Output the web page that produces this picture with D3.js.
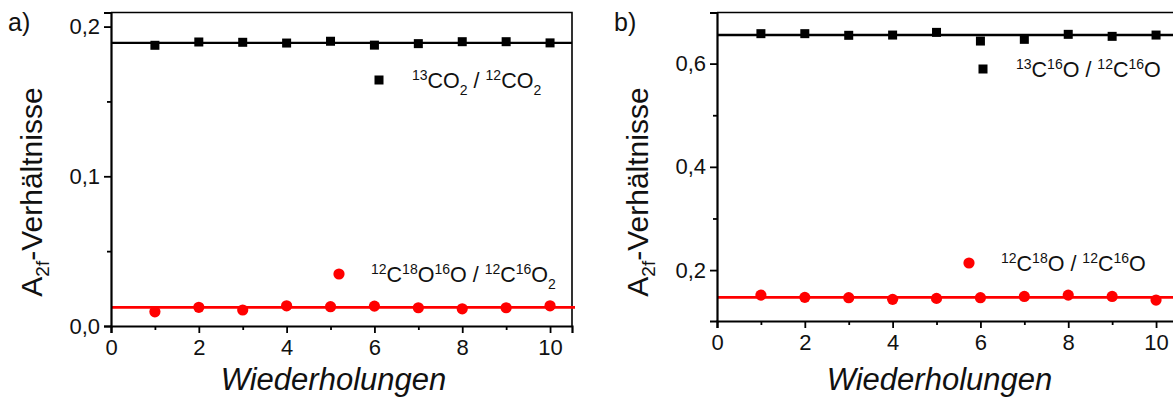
<!DOCTYPE html>
<html>
<head>
<meta charset="utf-8">
<script src="https://cdn.jsdelivr.net/npm/d3@7"></script>
<style>
  body { margin: 0; background: #fff; }
  svg { font-family: "Liberation Sans", Arial, sans-serif; display: block; }
</style>
</head>
<body>
<svg id="chart" width="1173" height="401"></svg>
<script>
// repetitions on the x axis
const repeats = [1, 2, 3, 4, 5, 6, 7, 8, 9, 10];
const xTicks = [0, 2, 4, 6, 8, 10];

// panel a: CO2 isotope ratios
const co2Ratio13 = [0.1875, 0.1897, 0.1895, 0.1890, 0.1902, 0.1876, 0.1886, 0.1899, 0.1899, 0.1891];
const co2Ratio18 = [0.0095, 0.0125, 0.0107, 0.0135, 0.0129, 0.0133, 0.0122, 0.0115, 0.0122, 0.0135];
const co2Fit = [0.1891, 0.0125];
const yTicksA = [0, 0.1, 0.2];

// panel b: CO isotope ratios
const coRatio13 = [0.6580, 0.6580, 0.6548, 0.6553, 0.6605, 0.6437, 0.6470, 0.6567, 0.6528, 0.6553];
const coRatio18 = [0.1516, 0.1472, 0.1465, 0.1433, 0.1452, 0.1465, 0.1490, 0.1516, 0.1490, 0.1420];
const coFit = [0.6553, 0.1472];
const yTicksB = [0.2, 0.4, 0.6];

const fmt = d => d3.format(".1f")(d).replace(".", ",");
const svg = d3.select("#chart");

function panel(opt) {
  const x = d3.scaleLinear().domain([0, 10.5]).range([opt.left, opt.left + 461]);
  const y = d3.scaleLinear().domain(opt.yDomain).range([opt.bottom, 12.5]);
  const g = svg.append("g");

  // frame top + right
  g.append("path")
    .attr("d", `M${x(0)},${y.range()[1]}H${x(10.5)}V${opt.bottom}`)
    .attr("fill", "none").attr("stroke", "#000").attr("stroke-width", 1.6);

  // fit lines
  const lineColors = ["#000", "#f00"];
  opt.fit.forEach((v, i) => {
    g.append("line")
      .attr("x1", x(0)).attr("x2", x(10.5) + (i ? 3 : 0))
      .attr("y1", y(v)).attr("y2", y(v))
      .attr("stroke", lineColors[i]).attr("stroke-width", i ? 2.8 : 2.4);
  });

  // x axis
  const xAxis = g.append("g").attr("transform", `translate(0,${opt.bottom})`)
    .call(d3.axisBottom(x).tickValues(xTicks).tickFormat(d3.format("d")).tickSize(7).tickPadding(5));
  g.append("g").attr("transform", `translate(0,${opt.bottom})`)
    .call(d3.axisBottom(x).tickValues(repeats.filter(d => d % 2)).tickFormat("").tickSize(4))
    .select(".domain").remove();

  // y axis
  const yAxis = g.append("g").attr("transform", `translate(${opt.left},0)`)
    .call(d3.axisLeft(y).tickValues(opt.yTicks).tickFormat(fmt).tickSize(7).tickPadding(4));
  g.append("g").attr("transform", `translate(${opt.left},0)`)
    .call(d3.axisLeft(y).tickValues(opt.yMinor).tickFormat("").tickSize(4))
    .select(".domain").remove();

  g.selectAll(".tick text").attr("font-size", 22).attr("fill", "#111").attr("font-family", "Liberation Sans, Arial");
  g.selectAll(".tick line").attr("stroke-width", 1.8);
  xAxis.select(".domain").attr("stroke-width", 2.2);
  yAxis.select(".domain").attr("stroke-width", 2.2);
  xAxis.selectAll(".tick text").attr("dy", "0.78em");

  // markers
  g.selectAll(".sq").data(repeats).join("rect")
    .attr("x", d => x(d) - 4.5).attr("y", (d, i) => y(opt.r13[i]) - 4.5)
    .attr("width", 9).attr("height", 9).attr("fill", "#000");
  g.selectAll(".dot").data(repeats).join("circle")
    .attr("cx", d => x(d)).attr("cy", (d, i) => y(opt.r18[i])).attr("r", 5.6).attr("fill", "#f00");

  // legend entries
  g.append("rect").attr("x", opt.leg13[0] - 4.5).attr("y", opt.leg13[1] - 4.5)
    .attr("width", 9).attr("height", 9).attr("fill", "#000");
  g.append("circle").attr("cx", opt.leg18[0]).attr("cy", opt.leg18[1]).attr("r", 5.6).attr("fill", "#f00");

  function richText(px, py, parts) {
    const t = g.append("text").attr("x", px).attr("y", py).attr("font-size", 21.5).attr("fill", "#111");
    let shift = 0;
    parts.forEach(p => {
      const want = p[1] === "sup" ? -8 : p[1] === "sub" ? 7 : 0;
      t.append("tspan").attr("dy", want - shift)
        .attr("font-size", p[1] ? 14 : 21.5).text(p[0]);
      shift = want;
    });
    return t;
  }
  richText(opt.leg13[0] + 33, opt.leg13[1] + 8, opt.lab13);
  richText(opt.leg18[0] + 32, opt.leg18[1] + 8, opt.lab18);

  // axis titles
  g.append("text").attr("x", x(5.25) - 8).attr("y", 390)
    .attr("text-anchor", "middle").attr("font-size", 31).attr("font-style", "italic").attr("fill", "#111")
    .text("Wiederholungen");
  const yl = g.append("text")
    .attr("transform", `translate(${opt.left - 69},192) rotate(-90)`)
    .attr("text-anchor", "middle").attr("font-size", 30).attr("fill", "#111");
  yl.append("tspan").text("A");
  yl.append("tspan").attr("dy", 7).attr("font-size", 19).text("2f");
  yl.append("tspan").attr("dy", -7).text("-Verhältnisse");

  g.append("text").attr("x", opt.left - 103).attr("y", 31).attr("font-size", 25).attr("fill", "#111").text(opt.tag);
}

panel({
  left: 111, bottom: 326, yDomain: [0, 0.2094], yTicks: yTicksA, yMinor: [0.05, 0.15],
  r13: co2Ratio13, r18: co2Ratio18, fit: co2Fit, tag: "a)",
  leg13: [379, 80], leg18: [339, 274],
  lab13: [["13", "sup"], ["CO"], ["2", "sub"], [" / "], ["12", "sup"], ["CO"], ["2", "sub"]],
  lab18: [["12", "sup"], ["C"], ["18", "sup"], ["O"], ["16", "sup"], ["O / "], ["12", "sup"], ["C"], ["16", "sup"], ["O"], ["2", "sub"]]
});

panel({
  left: 717, bottom: 321, yDomain: [0.1014, 0.699], yTicks: yTicksB, yMinor: [0.3, 0.5],
  r13: coRatio13, r18: coRatio18, fit: coFit, tag: "b)",
  leg13: [983, 69], leg18: [969, 263],
  lab13: [["13", "sup"], ["C"], ["16", "sup"], ["O / "], ["12", "sup"], ["C"], ["16", "sup"], ["O"]],
  lab18: [["12", "sup"], ["C"], ["18", "sup"], ["O / "], ["12", "sup"], ["C"], ["16", "sup"], ["O"]]
});
</script>
</body>
</html>
